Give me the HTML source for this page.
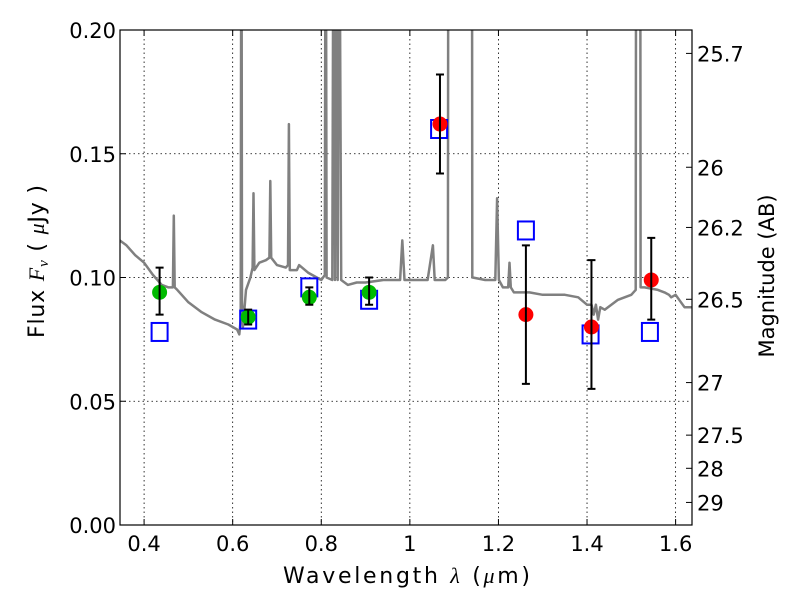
<!DOCTYPE html>
<html><head><meta charset="utf-8"><style>
body{margin:0;background:#fff}
svg text{font-family:"DejaVu Sans","Liberation Sans",sans-serif;fill:#000}
</style></head><body>
<svg id="chart" width="800" height="600" viewBox="0 0 800 600" xmlns="http://www.w3.org/2000/svg">
<defs><clipPath id="clip"><rect x="120" y="30" width="572" height="495"/></clipPath></defs>
<rect x="0" y="0" width="800" height="600" fill="#fff"/>
<g id="grid"></g>
<g id="spec" clip-path="url(#clip)"></g>
<g id="marks"></g>
<rect x="120" y="30" width="572" height="495" fill="none" stroke="#000" stroke-width="1.2"/>
<g id="axes"></g>
<text x="283" y="583" font-size="22" textLength="247" lengthAdjust="spacing">Wavelength  <tspan font-style="italic" font-family="Liberation Serif">λ</tspan> (<tspan font-style="italic" font-family="Liberation Serif">μ</tspan>m)</text>
<text transform="translate(44,338) rotate(-90)" font-size="22" textLength="153" lengthAdjust="spacing">Flux  <tspan font-style="italic" font-family="Liberation Serif">F</tspan><tspan font-style="italic" font-family="Liberation Serif" font-size="15" dy="4">ν</tspan><tspan dy="-4">  (  </tspan><tspan font-style="italic" font-family="Liberation Serif">μ</tspan>Jy )</text>
<text transform="translate(774,276) rotate(-90)" font-size="21" text-anchor="middle">Magnitude (AB)</text>
</svg>
<script>
const specLam = [0.345,0.36,0.38,0.40,0.42,0.44,0.455,0.465,0.467,0.469,0.475,0.50,0.53,0.56,0.59,0.60,0.61,0.615,0.618,0.6196,0.621,0.623,0.627,0.63,0.64,0.645,0.647,0.649,0.66,0.675,0.683,0.685,0.687,0.70,0.72,0.725,0.727,0.729,0.745,0.75,0.77,0.80,0.808,0.81,0.812,0.825,0.828,0.831,0.834,0.837,0.84,0.845,0.86,0.88,0.90,0.94,0.978,0.983,0.988,1.00,1.04,1.052,1.056,1.06,1.08,1.086,1.087,1.14,1.141,1.142,1.17,1.193,1.197,1.201,1.21,1.222,1.225,1.228,1.235,1.27,1.30,1.35,1.38,1.40,1.41,1.415,1.42,1.425,1.43,1.44,1.47,1.50,1.51,1.511,1.52,1.521,1.53,1.56,1.575,1.585,1.59,1.60,1.62,1.645];
const specFlux = [0.115,0.113,0.109,0.106,0.101,0.097,0.096,0.096,0.125,0.096,0.095,0.090,0.086,0.083,0.081,0.080,0.079,0.077,0.083,0.30,0.090,0.080,0.088,0.095,0.100,0.104,0.134,0.103,0.106,0.107,0.108,0.139,0.108,0.105,0.104,0.105,0.162,0.103,0.103,0.105,0.102,0.099,0.101,0.30,0.100,0.099,0.30,0.099,0.30,0.099,0.30,0.099,0.097,0.098,0.098,0.099,0.099,0.115,0.099,0.099,0.099,0.113,0.099,0.099,0.099,0.100,0.30,0.30,0.100,0.100,0.099,0.099,0.132,0.099,0.096,0.096,0.106,0.096,0.094,0.094,0.093,0.093,0.092,0.089,0.089,0.085,0.089,0.083,0.088,0.087,0.091,0.093,0.095,0.30,0.30,0.096,0.096,0.095,0.094,0.093,0.092,0.093,0.088,0.088];
const obsLam = [0.435,0.635,0.773,0.908,1.068,1.262,1.41,1.545];
const obsFlux = [0.094,0.084,0.092,0.094,0.162,0.085,0.080,0.099];
const obsErrLo = [0.085,0.081,0.089,0.089,0.142,0.057,0.055,0.083];
const obsErrHi = [0.104,0.087,0.096,0.100,0.182,0.113,0.107,0.116];
const obsColor = ['#00bb00','#00bb00','#00bb00','#00bb00','#ff0000','#ff0000','#ff0000','#ff0000'];
const modLam = [0.435,0.635,0.773,0.908,1.066,1.262,1.408,1.542];
const modFlux = [0.078,0.083,0.096,0.091,0.160,0.119,0.077,0.078];
const xTicks = [0.4,0.6,0.8,1.0,1.2,1.4,1.6];
const xTickLabels = ['0.4','0.6','0.8','1','1.2','1.4','1.6'];
const yTicks = [0,0.05,0.1,0.15,0.2];
const yTickLabels = ['0.00','0.05','0.10','0.15','0.20'];
const magTicks = [25.7,26,26.2,26.5,27,27.5,28,29];
const magTickLabels = ['25.7','26','26.2','26.5','27','27.5','28','29'];

const X0=120,X1=692,Y0=525,Y1=30,LMIN=0.3456,LMAX=1.637,FMIN=0,FMAX=0.2;
const sx=l=>X0+(l-LMIN)/(LMAX-LMIN)*(X1-X0);
const sy=f=>Y0-(f-FMIN)/(FMAX-FMIN)*(Y0-Y1);
const magToFlux=m=>Math.pow(10,-0.4*(m-23.9));
const NS='http://www.w3.org/2000/svg';
function mk(tag,attrs,parent){const e=document.createElementNS(NS,tag);for(const k in attrs)e.setAttribute(k,attrs[k]);parent.appendChild(e);return e;}
const grid=document.getElementById('grid'),axes=document.getElementById('axes'),spec=document.getElementById('spec'),marks=document.getElementById('marks');

xTicks.forEach((t,i)=>{const x=sx(t);
 let g=mk('line',{x1:x,x2:x,y1:Y1,y2:Y0,stroke:'#000','stroke-dasharray':'1.5,3','stroke-width':0.8},grid);
 
 mk('line',{x1:x,x2:x,y1:Y0,y2:Y0-6,stroke:'#000'},axes);mk('line',{x1:x,x2:x,y1:Y1,y2:Y1+6,stroke:'#000'},axes);
 let tx=mk('text',{x:x,y:Y0+26,'font-size':21,'text-anchor':'middle'},axes);tx.textContent=xTickLabels[i];
 });
yTicks.forEach((t,i)=>{const y=sy(t);
 if(t>0&&t<0.2){let g=mk('line',{x1:X0,x2:X1,y1:y,y2:y,stroke:'#000','stroke-dasharray':'1.5,3','stroke-width':0.8},grid);
 }
 mk('line',{x1:X0,x2:X0+6,y1:y,y2:y,stroke:'#000'},axes);
 let tx=mk('text',{x:X0-4,y:y+8,'font-size':21,'text-anchor':'end'},axes);tx.textContent=yTickLabels[i];
 });
magTicks.forEach((m,i)=>{const y=sy(magToFlux(m));
 mk('line',{x1:X1-6,x2:X1,y1:y,y2:y,stroke:'#000'},axes);
 let tx=mk('text',{x:X1+5,y:y+8,'font-size':21},axes);tx.textContent=magTickLabels[i];
 });

let d=specLam.map((l,i)=>(i?'L':'M')+sx(l).toFixed(1)+' '+sy(specFlux[i]).toFixed(1)).join(' ');
let p=mk('path',{d:d,fill:'none',stroke:'#808080','stroke-width':2.5,'stroke-linejoin':'round'},spec);


modLam.forEach((l,i)=>{const x=sx(l),y=sy(modFlux[i]);
 let r=mk('rect',{x:x-8,y:y-9,width:16,height:18,fill:'none',stroke:'#0000ff','stroke-width':2},marks);
 });
obsLam.forEach((l,i)=>{const x=sx(l);
 let c=mk('circle',{cx:x,cy:sy(obsFlux[i]),r:7.5,fill:obsColor[i]},marks);
 
 const ylo=sy(obsErrLo[i]),yhi=sy(obsErrHi[i]);
 let e=mk('path',{d:`M${x} ${ylo}L${x} ${yhi}M${x-4} ${ylo}L${x+4} ${ylo}M${x-4} ${yhi}L${x+4} ${yhi}`,stroke:'#000','stroke-width':2,fill:'none'},marks);
 });
</script>
</body></html>
